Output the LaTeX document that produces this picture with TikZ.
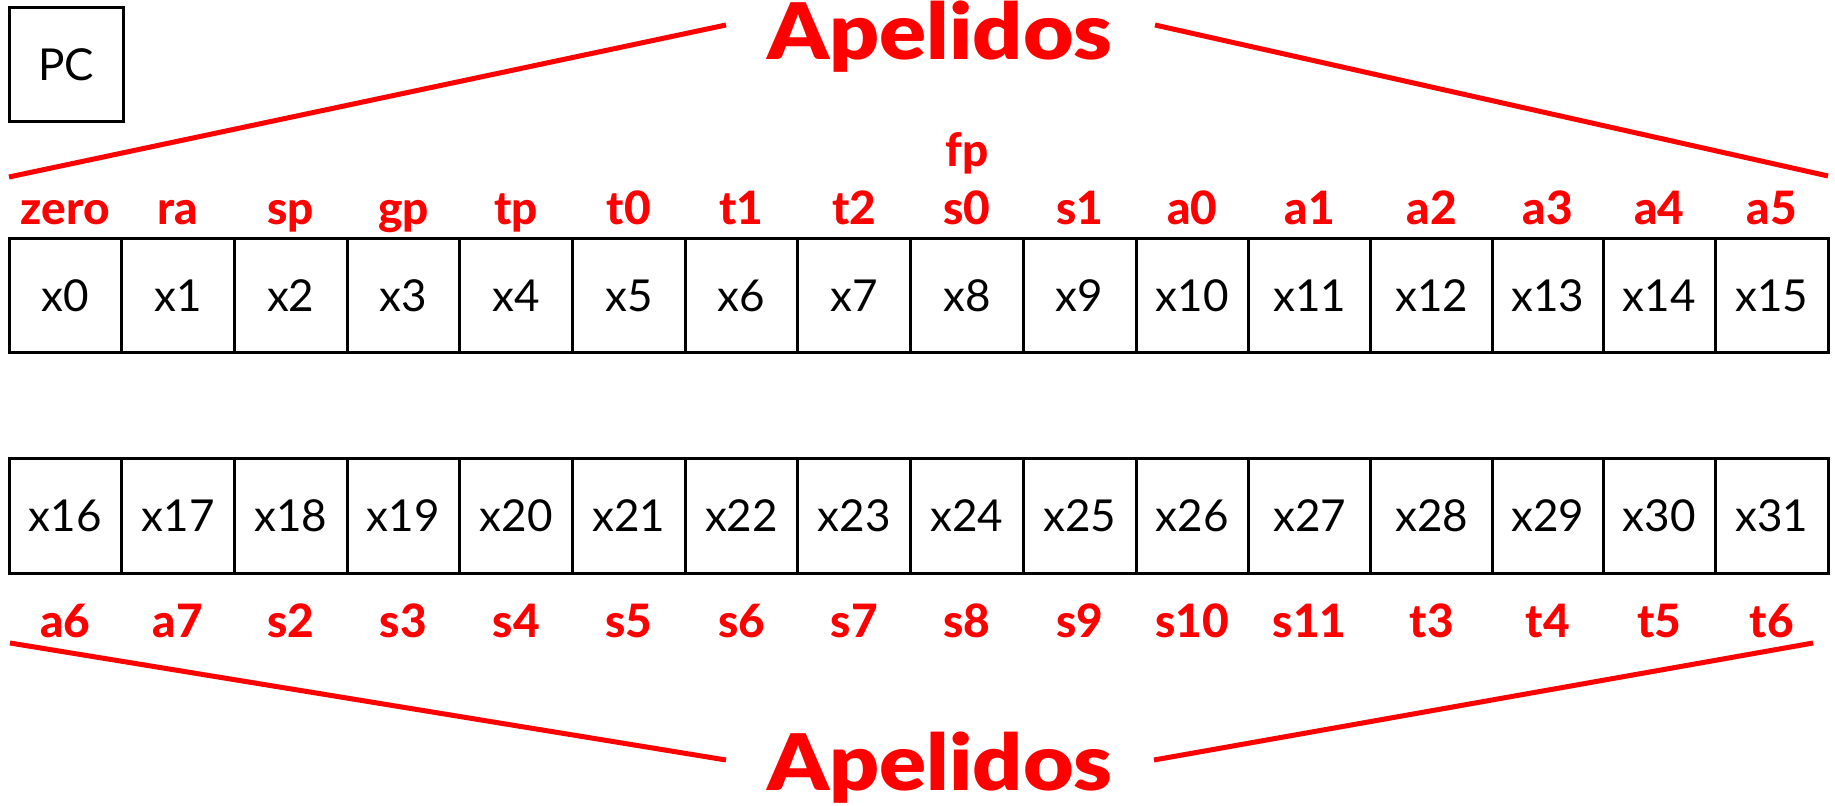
\documentclass[tikz,border=0pt]{standalone}
\usepackage{fontspec}
\setmainfont{Lato}
\newfontfamily\titlefont{Lato Black}
\newfontfamily\labelfont{Lato Heavy}
\begin{document}
\begin{tikzpicture}[x=0.5pt,y=-0.5pt,
  cell/.style={draw=black,line width=1.5pt,inner sep=0pt,outer sep=0pt,minimum height=57pt,font=\fontsize{22}{24}\selectfont},
  reglabel/.style={text=red,font=\labelfont\fontsize{23}{25}\selectfont,anchor=base,inner sep=0pt},
  title/.style={text=red,font=\titlefont\fontsize{39}{44}\selectfont,anchor=base,inner sep=0pt},
  redline/.style={draw=red,line width=2.5pt}]
\useasboundingbox (0,0) rectangle (1835,806);
% PC
\node[cell,minimum width=57pt,minimum height=57pt] (pc) at (66,65) {PC};
% top row
\foreach \a/\b/\lab [count=\i from 0] in {9/121.7/zero,121.7/234.4/ra,234.4/347.1/sp,347.1/459.8/gp,459.8/572.5/tp,572.5/685.2/t0,685.2/797.9/t1,797.9/910.6/t2,910.6/1023.3/s0,1023.3/1136/s1,1136/1248.7/a0,1248.7/1370.7/a1,1370.7/1492.7/a2,1492.7/1603/a3,1603/1715.5/a4,1715.5/1828/a5}{
  \node[cell,minimum width={(\b-\a)*0.5pt}] (r\i) at ({(\a+\b)/2},296) {x\i};
  \node[reglabel] (l\i) at ({(\a+\b)/2},225) {\lab};
}
\node[reglabel] (fp) at (967,167) {fp};
% bottom row
\foreach \a/\b/\lab [count=\i from 16] in {9/121.7/a6,121.7/234.4/a7,234.4/347.1/s2,347.1/459.8/s3,459.8/572.5/s4,572.5/685.2/s5,685.2/797.9/s6,797.9/910.6/s7,910.6/1023.3/s8,1023.3/1136/s9,1136/1248.7/s10,1248.7/1370.7/s11,1370.7/1492.7/t3,1492.7/1603/t4,1603/1715.5/t5,1715.5/1828/t6}{
  \node[cell,minimum width={(\b-\a)*0.5pt}] (r\i) at ({(\a+\b)/2},516) {x\i};
  \node[reglabel] (l\i) at ({(\a+\b)/2},637) {\lab};
}
% titles
\node[title] (ttop) at (940,60) {\scalebox{1.12}[1]{Apelidos}};
\node[title] (tbot) at (940,790) {\scalebox{1.12}[1]{Apelidos}};
\coordinate (tl1) at (9,177);
\coordinate (tl2) at (726,25);
\coordinate (tr1) at (1155,25);
\coordinate (tr2) at (1828,176);
\coordinate (bl1) at (10,643);
\coordinate (bl2) at (726,760);
\coordinate (br1) at (1154,760);
\coordinate (br2) at (1813,643);
\draw[redline] (tl1) -- (tl2);
\draw[redline] (tr1) -- (tr2);
\draw[redline] (bl1) -- (bl2);
\draw[redline] (br1) -- (br2);
\end{tikzpicture}
\end{document}
